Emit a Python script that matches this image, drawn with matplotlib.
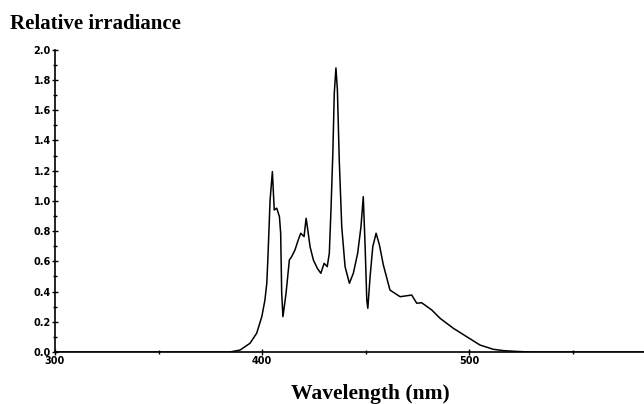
import numpy as np
import matplotlib
matplotlib.use('Agg')
import matplotlib.pyplot as plt
from matplotlib.ticker import MultipleLocator

# spectrum (nm, relative irradiance)
wavelength = [300, 340, 380, 384.5, 389.4, 394.2, 397.4, 399.9, 401.4, 402.3, 402.8, 403.9,
              405.0, 405.9, 407.1, 408.4, 409.0, 409.5, 410.1, 411.6, 413.2, 414.3, 415.9,
              417.5, 418.7, 420.3, 421.3, 422.1, 423.2, 424.8, 426.7, 428.4, 430.0, 431.5,
              432.5, 433.3, 434.2, 434.9, 435.7, 436.4, 437.3, 438.5, 440.1, 442.2, 444.1,
              446.2, 447.8, 448.9, 449.8, 450.6, 451.1, 452.2, 453.5, 455.1, 456.7, 458.6,
              461.8, 466.7, 472.3, 474.7, 477.1, 482.0, 486.0, 492.4, 498.9, 505.3, 511.7,
              516.6, 521.3, 529.5, 584.5]
irradiance = [0.0, 0.0, 0.0, 0.0, 0.013, 0.058, 0.124, 0.234, 0.344, 0.455, 0.609, 1.007,
              1.194, 0.94, 0.952, 0.896, 0.786, 0.389, 0.234, 0.389, 0.609, 0.631, 0.675,
              0.742, 0.786, 0.764, 0.885, 0.808, 0.697, 0.609, 0.554, 0.521, 0.587, 0.565,
              0.654, 0.94, 1.316, 1.713, 1.88, 1.735, 1.272, 0.83, 0.565, 0.455, 0.521,
              0.654, 0.83, 1.028, 0.697, 0.344, 0.289, 0.499, 0.697, 0.786, 0.709, 0.576,
              0.41, 0.366, 0.377, 0.323, 0.326, 0.278, 0.223, 0.157, 0.101, 0.046, 0.018,
              0.009, 0.005, 0.0, 0.0]

fig = plt.figure(figsize=(6.44, 4.04), dpi=100)
ax = fig.add_axes([0.0854, 0.1287, 0.9146, 0.748])

ax.plot(wavelength, irradiance, color='black', lw=1.1)

ax.set_xlim(300, 584.5)
ax.set_ylim(0, 2.0)
ax.spines['top'].set_visible(False)
ax.spines['right'].set_visible(False)
ax.spines['left'].set_linewidth(1.2)
ax.spines['bottom'].set_linewidth(1.2)

ax.set_xticks([300, 400, 500])
ax.xaxis.set_minor_locator(MultipleLocator(50))
ax.set_yticks(np.arange(0, 2.01, 0.2))
ax.set_yticklabels(['%.1f' % v for v in np.arange(0, 2.01, 0.2)])
ax.yaxis.set_minor_locator(MultipleLocator(0.1))
ax.tick_params(which='both', direction='inout', length=4, width=1, labelsize=7, pad=1)
ax.tick_params(which='minor', length=3)
for lab in ax.get_xticklabels() + ax.get_yticklabels():
    lab.set_fontweight('bold')
    lab.set_family('Liberation Sans Narrow')

fig.text(0.015, 0.928, 'Relative irradiance', fontsize=15, fontweight='bold',
         family='Liberation Serif', ha='left', va='baseline')
fig.text(0.575, 0.012, 'Wavelength (nm)', fontsize=15.5, fontweight='bold',
         family='Liberation Serif', ha='center', va='baseline')

fig.savefig('out.png', dpi=100)
